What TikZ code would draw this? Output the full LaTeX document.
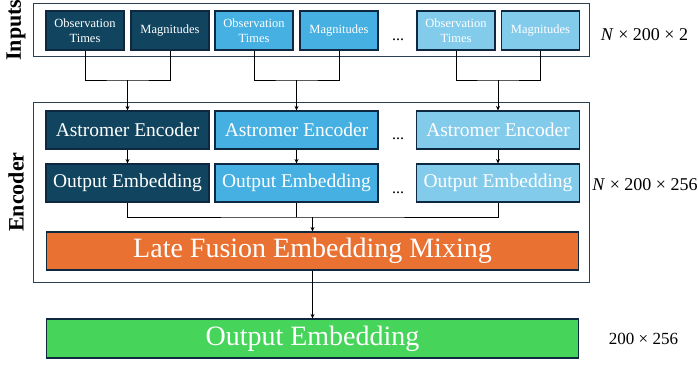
\documentclass[tikz,border=0pt]{standalone}
\usepackage{fontspec}
\setmainfont{Liberation Serif}
\usetikzlibrary{arrows.meta}
\definecolor{cdark}{HTML}{11455F}
\definecolor{cmid}{HTML}{45B0E1}
\definecolor{clight}{HTML}{83CBEB}
\definecolor{corange}{HTML}{E97132}
\definecolor{cgreen}{HTML}{47D45A}
\definecolor{cedge}{HTML}{0E2841}
\definecolor{cframe}{HTML}{2A4052}
\tikzset{
  box/.style={draw=cedge, line width=1.1pt, text=white, inner sep=0pt, align=center},
  inbox/.style={box, minimum width=78pt, minimum height=39pt, font=\fontsize{12.5}{15}\selectfont},
  encbox/.style={box, minimum width=163pt, minimum height=38pt, font=\fontsize{19.5}{22}\selectfont},
  bigbox/.style={box, minimum width=532pt, minimum height=38pt, font=\fontsize{28}{32}\selectfont},
  frame/.style={draw=cframe, line width=0.9pt},
  conn/.style={draw=black, line width=0.8pt},
  arr/.style={conn, -{Stealth[length=4.5pt,width=4pt]}},
  side/.style={font=\fontsize{22}{24}\selectfont\bfseries, rotate=90},
  dim/.style={font=\fontsize{18}{20}\selectfont},
  dots/.style={font=\fontsize{16}{18}\selectfont, anchor=base}
}
\begin{document}
\begin{tikzpicture}[x=1pt, y=-1pt]
\useasboundingbox (0,0) rectangle (698,365);
% frames
\draw[frame] (33,3) rectangle (589,56);
\draw[frame] (33,102) rectangle (589,282);
% side labels
\node[side] (linputs) at (16,30) {Inputs};
\node[side] (lenc) at (16,192) {Encoder};
% inputs
\node[inbox, fill=cdark] (i1) at (85,30.5) {Observation\\Times};
\node[inbox, fill=cdark] (i2) at (170,30.5) {Magnitudes};
\node[inbox, fill=cmid] (i3) at (254,30.5) {Observation\\Times};
\node[inbox, fill=cmid] (i4) at (339,30.5) {Magnitudes};
\node[dots] (d1) at (398,40) {...};
\node[inbox, fill=clight] (i5) at (456,30.5) {Observation\\Times};
\node[inbox, fill=clight] (i6) at (540.5,30.5) {Magnitudes};
% encoders
\node[encbox, fill=cdark] (e1) at (127.5,130) {Astromer Encoder};
\node[encbox, fill=cmid] (e2) at (296.5,130) {Astromer Encoder};
\node[dots] (d2) at (398,139) {...};
\node[encbox, fill=clight] (e3) at (498,130) {Astromer Encoder};
\node[encbox, fill=cdark] (o1) at (127.5,183) {Output Embedding};
\node[encbox, fill=cmid] (o2) at (296.5,183) {Output Embedding};
\node[dots] (d3) at (398,193) {...};
\node[encbox, fill=clight] (o3) at (498,183) {Output Embedding};
% big boxes
\node[bigbox, fill=corange] (late) at (312.5,251) {Late Fusion Embedding Mixing};
\node[bigbox, fill=cgreen, minimum height=39pt] (out) at (312.5,338.5) {Output Embedding};
% dimension labels
\node[dim] (dim1) at (644.5,35) {\textit{N} × 200 × 2};
\node[dim] (dim2) at (645,185) {\textit{N} × 200 × 256};
\node[dim, font=\fontsize{17}{19}\selectfont] (dim3) at (643.5,339) {200 × 256};
% connectors inputs -> encoders
\coordinate (m1) at (127.5,80);
\coordinate (m2) at (296.5,80);
\coordinate (m3) at (498,80);
\draw[conn] (i1.south) |- (m1) -| (i2.south);
\draw[conn] (i3.south) |- (m2) -| (i4.south);
\draw[conn] (i5.south) |- (m3) -| (i6.south);
\draw[arr] (m1) -- (e1.north);
\draw[arr] (m2) -- (e2.north);
\draw[arr] (m3) -- (e3.north);
\draw[arr] (e1) -- (o1);
\draw[arr] (e2) -- (o2);
\draw[arr] (e3) -- (o3);
% merge outputs
\coordinate (j) at (312.5,217);
\draw[conn] (o1.south) |- (j) -| (o3.south);
\draw[conn] (o2.south) -- (o2.south |- j);
\draw[arr] (j) -- (late.north);
\draw[arr] (late.south) -- (out.north);
\end{tikzpicture}
\end{document}
